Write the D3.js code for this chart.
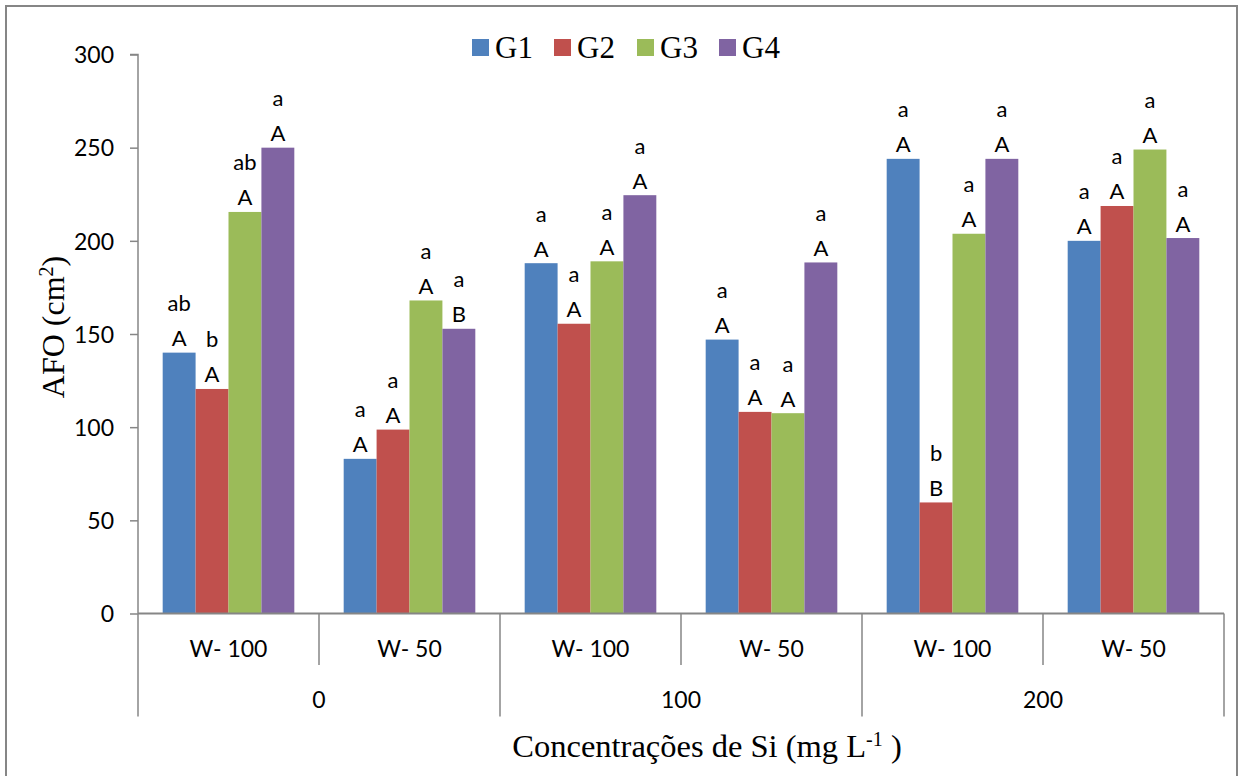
<!DOCTYPE html>
<html>
<head>
<meta charset="utf-8">
<script src="https://cdn.jsdelivr.net/npm/d3@7"></script>
<style>
  html, body { margin: 0; padding: 0; background: #fff; }
  svg { display: block; }
</style>
</head>
<body>
<svg id="chart" width="1239" height="776"></svg>
<script>
// ---- data ----
const siLevels = ["0", "100", "200"];
const waterLevels = ["W- 100", "W- 50"];
const seriesNames = ["G1", "G2", "G3", "G4"];
const seriesColors = ["#4F81BD", "#C0504D", "#9BBB59", "#8064A2"];
const g1Values = [140, 83, 188, 147, 244, 200];
const g2Values = [120.5, 98.7, 155.5, 108.2, 59.6, 218.7];
const g3Values = [215.5, 168, 189, 107.5, 203.8, 249];
const g4Values = [250, 152.8, 224.5, 188.4, 244, 201.5];
const g1Lower = ["ab", "a", "a", "a", "a", "a"];
const g2Lower = ["b", "a", "a", "a", "b", "a"];
const g3Lower = ["ab", "a", "a", "a", "a", "a"];
const g4Lower = ["a", "a", "a", "a", "a", "a"];
const g1Upper = ["A", "A", "A", "A", "A", "A"];
const g2Upper = ["A", "A", "A", "A", "B", "A"];
const g3Upper = ["A", "A", "A", "A", "A", "A"];
const g4Upper = ["A", "B", "A", "A", "A", "A"];
const yTicks = [0, 50, 100, 150, 200, 250, 300];

(function () {
// ---- build ----
const seriesValues = [g1Values, g2Values, g3Values, g4Values];
const seriesLower = [g1Lower, g2Lower, g3Lower, g4Lower];
const seriesUpper = [g1Upper, g2Upper, g3Upper, g4Upper];
const categories = [];
siLevels.forEach(s => waterLevels.forEach(w => categories.push({si: s, w: w, key: s + "|" + w})));

const svg = d3.select("#chart");
const pLeft = 138, pRight = 1224, pTop = 54.5, pBottom = 613.5;
const axisColor = "#868686";
const sansFont = "Lato, 'Open Sans', sans-serif";
const serifFont = "'Liberation Serif', 'Times New Roman', serif";

// outer border
svg.append("rect").attr("x", 6).attr("y", 6).attr("width", 1231).attr("height", 790)
  .attr("fill", "#fff").attr("stroke", axisColor).attr("stroke-width", 2);

const x0 = d3.scaleBand().domain(categories.map(c => c.key)).range([pLeft, pRight]).padding(0);
const x1 = d3.scaleBand().domain(seriesNames).range([0, x0.bandwidth()]).paddingInner(0).paddingOuter(0.75);
const y = d3.scaleLinear().domain([0, 300]).range([pBottom, pTop]);

// bars
const rows = [];
categories.forEach((c, i) => {
  seriesNames.forEach((s, j) => {
    rows.push({cat: c.key, series: s, value: seriesValues[j][i], color: seriesColors[j],
      lower: seriesLower[j][i], upper: seriesUpper[j][i]});
  });
});

svg.append("g").selectAll("rect").data(rows).join("rect")
  .attr("x", d => x0(d.cat) + x1(d.series))
  .attr("y", d => y(d.value))
  .attr("width", x1.bandwidth())
  .attr("height", d => y(0) - y(d.value))
  .attr("fill", d => d.color);

// data labels
const lbl = svg.append("g").attr("font-family", sansFont).attr("font-size", 22)
  .attr("fill", "#000").attr("text-anchor", "middle");
lbl.selectAll("text.up").data(rows).join("text").attr("class", "up")
  .attr("x", d => x0(d.cat) + x1(d.series) + x1.bandwidth() / 2)
  .attr("y", d => y(d.value) - 6.5)
  .text(d => d.upper);
lbl.selectAll("text.lo").data(rows).join("text").attr("class", "lo")
  .attr("x", d => x0(d.cat) + x1(d.series) + x1.bandwidth() / 2)
  .attr("y", d => y(d.value) - 41.5)
  .text(d => d.lower);

// y axis
const yAxis = d3.axisLeft(y).tickValues(yTicks).tickSize(8).tickPadding(16);
const yg = svg.append("g").attr("transform", `translate(${pLeft},0)`).call(yAxis);
yg.select(".domain").attr("stroke", axisColor).attr("stroke-width", 1.5).attr("d", `M-8,${pTop}H0V${pBottom}`);
yg.selectAll(".tick line").attr("stroke", axisColor).attr("stroke-width", 1.5);
yg.selectAll(".tick text").attr("font-family", sansFont).attr("font-size", 23).attr("fill", "#000").attr("dy", "0.36em");

// x axis (multi-level)
const xg = svg.append("g");
xg.append("line").attr("x1", pLeft).attr("x2", pRight).attr("y1", pBottom).attr("y2", pBottom)
  .attr("stroke", axisColor).attr("stroke-width", 2);
const bounds = categories.map((c, i) => ({pos: x0(c.key), long: i % waterLevels.length === 0}));
bounds.push({pos: x0(categories[categories.length - 1].key) + x0.bandwidth(), long: true});
xg.selectAll("line.sep").data(bounds).join("line").attr("class", "sep")
  .attr("x1", d => d.pos).attr("x2", d => d.pos)
  .attr("y1", pBottom).attr("y2", d => d.long ? 716.5 : 665)
  .attr("stroke", axisColor).attr("stroke-width", 1.5);
xg.selectAll("text.w").data(categories).join("text").attr("class", "w")
  .attr("x", d => x0(d.key) + x0.bandwidth() / 2).attr("y", 657)
  .attr("text-anchor", "middle").attr("font-family", sansFont).attr("font-size", 23)
  .text(d => d.w);
const groupScale = d3.scaleBand().domain(siLevels).range([pLeft, pRight]);
xg.selectAll("text.si").data(siLevels).join("text").attr("class", "si")
  .attr("x", d => groupScale(d) + groupScale.bandwidth() / 2).attr("y", 708)
  .attr("text-anchor", "middle").attr("font-family", sansFont).attr("font-size", 23)
  .text(d => d);

// axis titles
const yt = svg.append("text").attr("transform", "translate(64,327) rotate(-90)")
  .attr("text-anchor", "middle").attr("font-family", serifFont).attr("font-size", 32);
yt.append("tspan").text("AFO (cm");
yt.append("tspan").attr("font-size", 20).attr("dy", -11).text("2");
yt.append("tspan").attr("dy", 11).text(")");

const xt = svg.append("text").attr("x", 707).attr("y", 757)
  .attr("text-anchor", "middle").attr("font-family", serifFont).attr("font-size", 32.5);
xt.append("tspan").text("Concentrações de Si (mg L");
xt.append("tspan").attr("font-size", 20).attr("dy", -11).text("-1");
xt.append("tspan").attr("dy", 11).text(" )");

// legend
const legendX = [472, 554, 637, 719];
const lg = svg.append("g");
seriesNames.forEach((s, j) => {
  lg.append("rect").attr("x", legendX[j]).attr("y", 39).attr("width", 17).attr("height", 17).attr("fill", seriesColors[j]);
  lg.append("text").attr("x", legendX[j] + 23).attr("y", 58).attr("font-family", serifFont).attr("font-size", 31).text(s);
});
})();
</script>
</body>
</html>
